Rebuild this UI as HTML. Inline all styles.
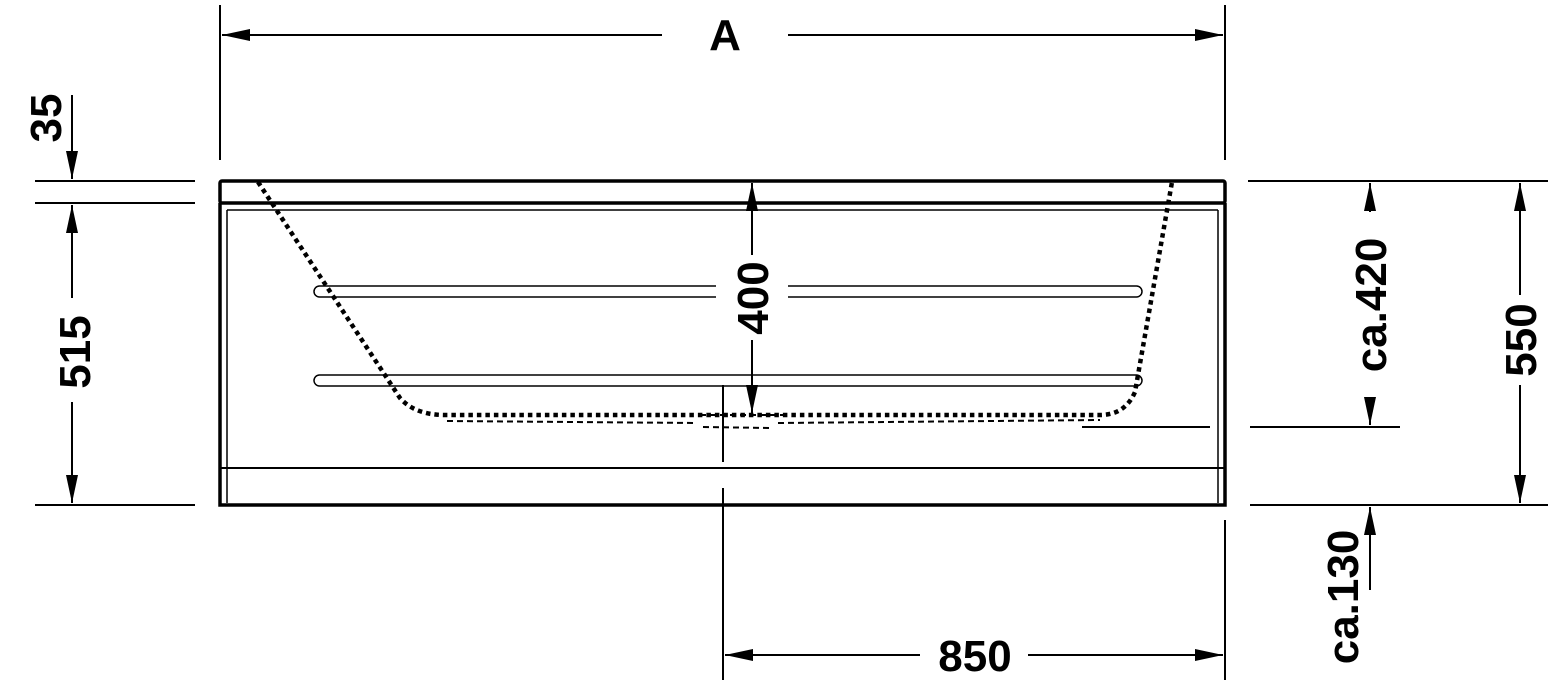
<!DOCTYPE html>
<html><head><meta charset="utf-8"><style>
html,body{margin:0;padding:0;background:#fff;}
svg{display:block}
text{font-family:"Liberation Sans Narrow","Liberation Sans",sans-serif;font-weight:bold;font-size:44px;fill:#000}
</style></head><body>
<svg width="1554" height="687" viewBox="0 0 1554 687" xmlns="http://www.w3.org/2000/svg">
<defs>
<marker id="ar" markerWidth="30" markerHeight="12" refX="28" refY="6" orient="auto" markerUnits="userSpaceOnUse">
<path d="M0,0 L28,6 L0,12 Z" fill="#000"/></marker>
</defs>
<g stroke="#000" fill="none">
<rect x="220" y="181" width="1005" height="22" stroke-width="3.5" rx="2"/>
<path d="M220,203 V505 H1225 V203" stroke-width="3.5"/>
<line x1="227" y1="210" x2="1218" y2="210" stroke-width="1.5"/>
<line x1="227" y1="210" x2="227" y2="503" stroke-width="1.5"/>
<line x1="1218" y1="210" x2="1218" y2="503" stroke-width="1.5"/>
<line x1="220" y1="468" x2="1225" y2="468" stroke-width="2"/>
<rect x="314" y="286" width="828" height="11" rx="5.5" stroke-width="1.5"/>
<rect x="314" y="375" width="828" height="11" rx="5.5" stroke-width="1.5"/>
<rect x="716" y="282" width="72" height="20" fill="#fff" stroke="none"/>
<path d="M258,182 L400,398 Q415,415 445,415 L1100,415 Q1125,415 1135,392 L1172,182" stroke-width="4.5" stroke-dasharray="4.5,4"/>
<path d="M447,421 L697,423 M703,427 L770,428 M778,423 L1100,420" stroke-width="2" stroke-dasharray="6,4"/>
<path d="M700,415 L790,415" stroke-width="2" stroke-dasharray="6,4"/>
<line x1="220" y1="5" x2="220" y2="160" stroke-width="2"/>
<line x1="1225" y1="5" x2="1225" y2="160" stroke-width="2"/>
<line x1="662" y1="35" x2="222" y2="35" stroke-width="2" marker-end="url(#ar)"/>
<line x1="788" y1="35" x2="1223" y2="35" stroke-width="2" marker-end="url(#ar)"/>
<line x1="35" y1="181" x2="195" y2="181" stroke-width="2"/>
<line x1="35" y1="203" x2="195" y2="203" stroke-width="2"/>
<line x1="35" y1="505" x2="195" y2="505" stroke-width="2"/>
<line x1="72" y1="95" x2="72" y2="179" stroke-width="2" marker-end="url(#ar)"/>
<line x1="72" y1="298" x2="72" y2="205" stroke-width="2" marker-end="url(#ar)"/>
<line x1="72" y1="402" x2="72" y2="503" stroke-width="2" marker-end="url(#ar)"/>
<line x1="752" y1="255" x2="752" y2="183" stroke-width="2" marker-end="url(#ar)"/>
<line x1="752" y1="340" x2="752" y2="413" stroke-width="2" marker-end="url(#ar)"/>
<line x1="723" y1="385" x2="723" y2="462" stroke-width="2"/>
<line x1="1082" y1="427" x2="1210" y2="427" stroke-width="2"/>
<line x1="1248" y1="181" x2="1548" y2="181" stroke-width="2"/>
<line x1="1250" y1="427" x2="1400" y2="427" stroke-width="2"/>
<line x1="1250" y1="505" x2="1548" y2="505" stroke-width="2"/>
<line x1="1370" y1="212" x2="1370" y2="183" stroke-width="2" marker-end="url(#ar)"/>
<line x1="1370" y1="398" x2="1370" y2="425" stroke-width="2" marker-end="url(#ar)"/>
<line x1="1520" y1="295" x2="1520" y2="183" stroke-width="2" marker-end="url(#ar)"/>
<line x1="1520" y1="385" x2="1520" y2="503" stroke-width="2" marker-end="url(#ar)"/>
<line x1="1370" y1="590" x2="1370" y2="507" stroke-width="2" marker-end="url(#ar)"/>
<line x1="723" y1="488" x2="723" y2="680" stroke-width="2"/>
<line x1="1225" y1="520" x2="1225" y2="680" stroke-width="2"/>
<line x1="920" y1="655" x2="725" y2="655" stroke-width="2" marker-end="url(#ar)"/>
<line x1="1028" y1="655" x2="1223" y2="655" stroke-width="2" marker-end="url(#ar)"/>
</g>
<text x="725" y="50" text-anchor="middle">A</text>
<text x="975" y="671" text-anchor="middle">850</text>
<text transform="translate(61,118) rotate(-90)" text-anchor="middle">35</text>
<text transform="translate(90,352) rotate(-90)" text-anchor="middle">515</text>
<text transform="translate(768,298) rotate(-90)" text-anchor="middle">400</text>
<text transform="translate(1386,305) rotate(-90)" text-anchor="middle">ca.420</text>
<text transform="translate(1536,340) rotate(-90)" text-anchor="middle">550</text>
<text transform="translate(1358,597) rotate(-90)" text-anchor="middle">ca.130</text>
</svg>
</body></html>
